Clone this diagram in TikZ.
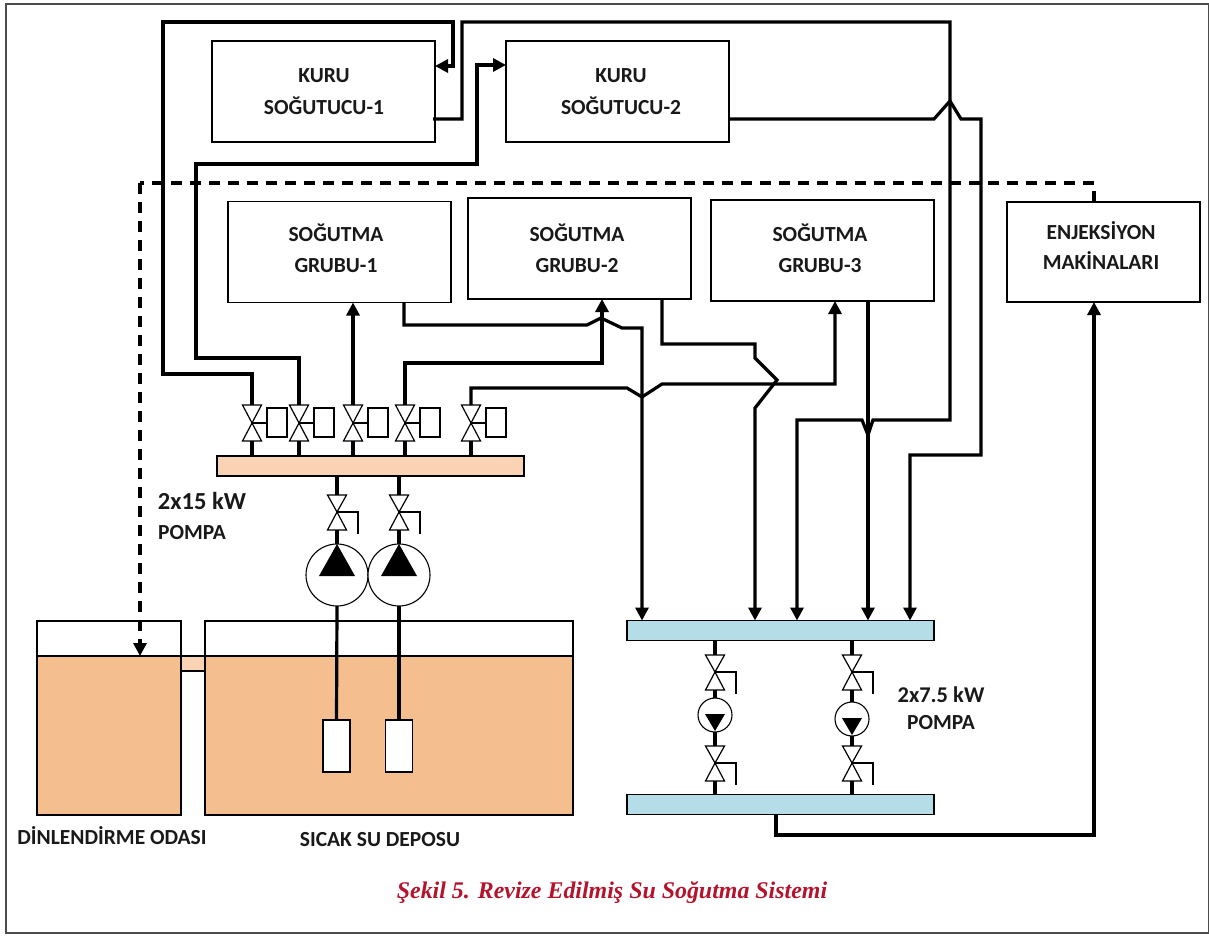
\documentclass[tikz,border=0pt]{standalone}
\usepackage{fontspec}
\setmainfont{Carlito}
\newfontfamily\captionserif{Liberation Serif}
\usetikzlibrary{arrows.meta}
\definecolor{watercol}{HTML}{F5BE8E}
\definecolor{hotcol}{HTML}{F9D3B4}
\definecolor{coldcol}{HTML}{B5DDE8}
\definecolor{captioncol}{HTML}{B5122B}
\tikzset{
  valvetri/.style={draw=black, line width=1.2pt, fill=white},
  valvebox/.pic={
    \draw[valvetri] (-9.5,-18) -- (9.5,-18) -- (0,0) -- cycle;
    \draw[valvetri] (-9.5,18) -- (9.5,18) -- (0,0) -- cycle;
    \draw[line width=1.2pt] (0,0) -- (15,0);
    \draw[line width=1.2pt, fill=white] (15,-15) rectangle (35,14);
    \coordinate (-top) at (0,-18);
    \coordinate (-bot) at (0,18);
  },
  valvehand/.pic={
    \draw[valvetri] (-9.5,-17) -- (9.5,-17) -- (0,0) -- cycle;
    \draw[valvetri] (-9.5,18) -- (9.5,18) -- (0,0) -- cycle;
    \draw[line width=1.2pt] (0,0) -- (21,0) -- (21,22);
    \coordinate (-top) at (0,-17);
    \coordinate (-bot) at (0,18);
  }
}
\begin{document}
\begin{tikzpicture}[
  x=1pt, y=-1pt,
  font=\bfseries\fontsize{21.5}{24}\selectfont,
  unitbox/.style={rectangle, draw=black, line width=1.2pt, fill=white, outer sep=0pt},
  kurubox/.style={unitbox, minimum width=223pt, minimum height=101pt},
  grupbox/.style={unitbox, minimum width=223pt, minimum height=101pt},
  boxtext/.style={align=center, inner sep=0pt, text=black!90},
  header/.style={rectangle, draw=black, line width=1.3pt, outer sep=0pt, minimum height=20pt, minimum width=307pt},
  heater/.style={rectangle, draw=black, line width=1.2pt, fill=white, outer sep=0pt, minimum width=27pt, minimum height=52pt},
  pumpcirc/.style={circle, draw=black, line width=1.1pt, fill=white, inner sep=0pt, outer sep=0pt},
  pipe/.style={line width=3.2pt, line join=miter, >={Stealth[length=13pt,width=13pt,inset=0pt]}},
  dashpipe/.style={pipe, dash pattern=on 11pt off 8pt},
  lbl/.style={inner sep=0pt, text=black!90}
]
\useasboundingbox (0,0) rectangle (1209,935);
\draw[line width=1.2pt, draw=black!70] (6,4) rectangle (1209,933);

% tanks
\fill[watercol] (37,656) rectangle (181,815);
\fill[watercol] (205,656) rectangle (573,815);
\fill[hotcol] (181,656) rectangle (205,671);
\draw[line width=1.3pt] (37,656) -- (573,656) (181,671) -- (205,671);
\draw[line width=1.3pt] (37,621) rectangle (181,815) (205,621) rectangle (573,815);
\coordinate (level) at (140,656);

% units
\node (kuru1) [kurubox] at (323.5,91.5) {};
\node (kuru2) [kurubox] at (617.5,91.5) {};
\node (grup1) [grupbox] at (339.5,252) {};
\node (grup2) [grupbox] at (579.5,248.5) {};
\node (grup3) [grupbox] at (822.5,250.5) {};
\node (enj) [unitbox, minimum width=193pt, minimum height=100pt] at (1103.5,252) {};
\node (kuru1txt) [boxtext] at (324,92) {KURU\\[8pt]SOĞUTUCU-1};
\node (kuru2txt) [boxtext] at (621,92) {KURU\\[8pt]SOĞUTUCU-2};
\node (grup1txt) [boxtext] at (336,248.5) {SOĞUTMA\\[7pt]GRUBU-1};
\node (grup2txt) [boxtext] at (577,248.5) {SOĞUTMA\\[7pt]GRUBU-2};
\node (grup3txt) [boxtext] at (820,248.5) {SOĞUTMA\\[7pt]GRUBU-3};
\node (enjtxt) [boxtext] at (1101,246) {ENJEKSİYON\\[6pt]MAKİNALARI};

% headers
\node (hothead) [header, fill=hotcol] at (370.5,466) {};
\node (coldtop) [header, fill=coldcol] at (780.5,630.5) {};
\node (coldbot) [header, fill=coldcol] at (780.5,804.5) {};

% valves on the hot header
\pic (v1) at (252,423) {valvebox};
\pic (v2) at (299,423) {valvebox};
\pic (v3) at (353,423) {valvebox};
\pic (v4) at (405,423) {valvebox};
\pic (v5) at (471,423) {valvebox};
\foreach \v in {v1,v2,v3,v4,v5}
  \draw[pipe] (\v-bot) -- (\v-bot |- hothead.north);

% hot pumps
\foreach \n/\xp in {a/337, b/399} {
  \pic (hv\n) at (\xp,512) {valvehand};
  \node (pump\n) [pumpcirc, minimum size=62pt] at (\xp,575) {};
  \fill (\xp-18,576) -- (\xp+18,576) -- (\xp,544) -- cycle;
  \draw[pipe] (hv\n-top) -- (hv\n-top |- hothead.south);
  \draw[pipe] (hv\n-bot) -- (pump\n.north);
}
\node (heatera) [heater] at (336.5,746) {};
\node (heaterb) [heater] at (399,746) {};
\draw[pipe] (pumpa.south) -- (heatera.north);
\draw[pipe] (pumpb.south) -- (heaterb.north);

% cold pumps
\foreach \n/\xp/\yp in {c/715/715, d/852/719} {
  \pic (tv\n) at (\xp,672) {valvehand};
  \pic (bv\n) at (\xp,763) {valvehand};
  \draw[pipe] (tv\n-top) -- (tv\n-top |- coldtop.south);
  \draw[pipe] (bv\n-bot) -- (bv\n-bot |- coldbot.north);
  \node (pump\n) [pumpcirc, minimum size=34pt] at (\xp,\yp) {};
  \fill (\xp-10,\yp-1) -- (\xp+10,\yp-1) -- (\xp,\yp+16) -- cycle;
  \draw[pipe] (tv\n-bot) -- (pump\n.north);
  \draw[pipe] (pump\n.south) -- (bv\n-top);
}

% water lines
\draw[pipe, ->] (v1-top) |- (163,374) |- (453,22) |- (kuru1.east |- 0,66);
\draw[pipe, ->] ([xshift=-2pt]kuru1.east |- 0,119) -- (462,119) |- (950,22) -- (950,420) -- (873,420) -- (868,435) -- (862,420) -| (coldtop.north -| 797,0);
\draw[pipe, ->] (v2-top) |- (196,358) |- (477,164) |- (kuru2.west |- 0,65);
\draw[pipe, ->] (v3-top) -- (v3-top |- grup1.south);
\draw[pipe, ->] (v4-top) |- (602,363) -- (grup2.south -| 602,0);
\draw[pipe, ->] (v5-top) |- (627,388) -- (642,397) -- (662,384) -| (grup3.south -| 835,0);
\draw[pipe, ->] (grup1.south -| 404,0) |- (587,325) -- (601,318) -- (622,328) -| (coldtop.north -| 642,0);
\draw[pipe, ->] (grup2.south -| 662,0) |- (755,344) -- (755,358) -- (777,380) -- (755,408) -- (coldtop.north -| 755,0);
\draw[pipe, ->] (grup3.south -| 868,0) -- (coldtop.north -| 868,0);
\draw[pipe, ->] (kuru2.east |- 0,119) -- (934,119) -- (950,101) -- (961,119) -- (981,119) |- (910,455) -- (coldtop.north -| 910,0);
\draw[pipe, ->] (coldbot.south -| 776,0) |- (1094,835) -- (enj.south -| 1094,0);
\draw[pipe] (enj.north -| 1094,0) -- (1094,191);
\draw[dashpipe] (1094,183) -- (140,183);
\draw[dashpipe, ->] (140,183) -- (level);

% labels
\node (lblhot) [lbl, font=\bfseries\fontsize{24.5}{28}\selectfont] at (202,501) {2x15 kW};
\node (lblhotb) [lbl] at (192,533) {POMPA};
\node (lblcold) [lbl, font=\bfseries\fontsize{22.5}{26}\selectfont] at (941,695) {2x7.5 kW};
\node (lblcoldb) [lbl] at (941,723) {POMPA};
\node (lblrest) [lbl] at (112,836) {DİNLENDİRME ODASI};
\node (lbltank) [lbl] at (380,840) {SICAK SU DEPOSU};
\node (cap) [lbl, text=captioncol, font=\captionserif\bfseries\itshape\fontsize{23.9}{28}\selectfont] at (612,892.5) {Şekil 5. Revize Edilmiş Su Soğutma Sistemi};
\end{tikzpicture}
\end{document}
